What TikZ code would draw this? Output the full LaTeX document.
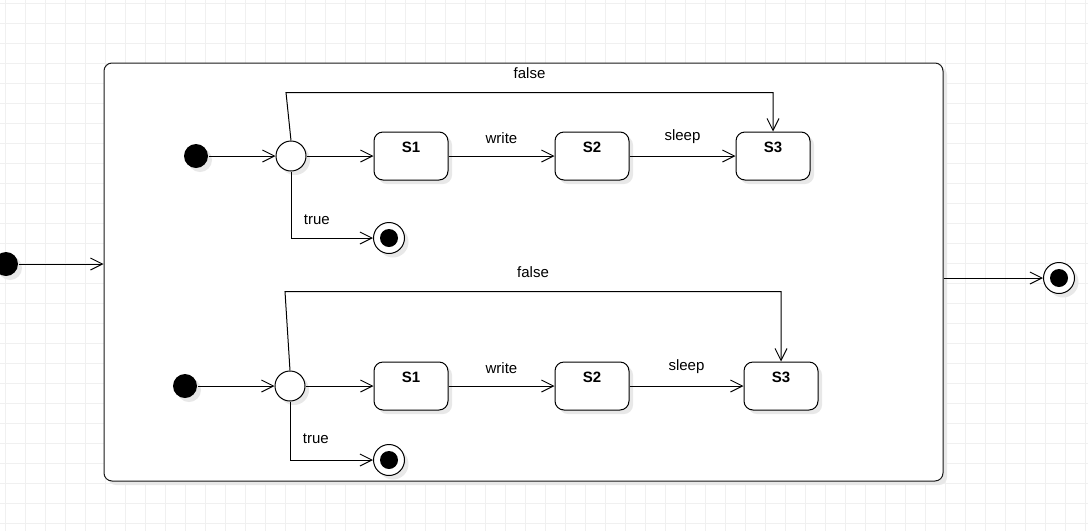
\documentclass[tikz,border=0pt]{standalone}
\usepackage{fontspec}
\setmainfont{Liberation Sans}
\usetikzlibrary{arrows.meta,positioning,shadows}

\tikzset{
  shd/.style={drop shadow={shadow xshift=4pt,shadow yshift=-4pt,fill=black!9,opacity=1}},
  gridline/.style={-,draw=black!6,line width=0.8pt},
  outerbox/.style={draw=black!90,fill=white,rounded corners=8pt,minimum width=839pt,minimum height=418pt,shd},
  stbox/.style={draw,fill=white,rounded corners=9pt,minimum width=74pt,minimum height=48pt,
    font=\fontsize{15}{18}\selectfont\bfseries,text depth=18pt,shd},
  startdot/.style={circle,fill=black,minimum size=24pt,inner sep=0pt,shd},
  choicept/.style={circle,draw,fill=white,minimum size=30pt,inner sep=0pt,shd},
  enddot/.style={circle,draw,fill=white,minimum size=31pt,inner sep=0pt,shd,
    path picture={\fill[black] (path picture bounding box.center) circle (9pt);}}
}

\begin{document}
\begin{tikzpicture}[x=1pt,y=-1pt,->,>={Straight Barb[length=12pt,width=12pt]},line width=1pt,
    node distance=106pt,font=\fontsize{15}{18}\selectfont]
  \useasboundingbox (0,0) rectangle (1088,531);
  \fill[white] (0,0) rectangle (1088,531);
  \foreach \x in {5,25,...,1085} \draw[gridline] (\x,0) -- (\x,531);
  \foreach \y in {3,23,...,523} \draw[gridline] (0,\y) -- (1088,\y);

  % composite state
  \node[outerbox] (frame) at (523.5,272) {};
  \node[startdot] (st0) at (6,264) {};
  \node[enddot] (en0) at (1059,278) {};
  \draw (st0) -- (st0 -| frame.west);
  \draw (frame.east |- en0) -- (en0);

  % upper region
  \node[startdot] (i1) at (196,156) {};
  \node[choicept] (c1) [right=67pt of i1] {};
  \node[stbox] (s1a) [right=67pt of c1] {S1};
  \node[stbox] (s2a) [right=of s1a] {S2};
  \node[stbox] (s3a) [right=of s2a] {S3};
  \node[enddot] (e1) at (389,238) {};
  \path
    (i1) edge (c1)
    (c1) edge (s1a)
    (s1a) edge node[above=9pt,-] {write} (s2a)
    (s2a) edge node[above=9pt,-] {sleep} (s3a);
  \draw (c1.north) -- ++(-5,-48) coordinate (f1) -| node[pos=0.25,above=10pt] {false} (s3a.north);
  \draw (c1.south) |- node[pos=0.36,right=9pt] {true} (e1);

  % lower region
  \node[startdot] (i2) at (185,386) {};
  \node[choicept] (c2) [right=77pt of i2] {};
  \node[stbox] (s1b) [right=68pt of c2] {S1};
  \node[stbox] (s2b) [right=of s1b] {S2};
  \node[stbox] (s3b) [right=114pt of s2b] {S3};
  \node[enddot] (e2) at (389,460) {};
  \path
    (i2) edge (c2)
    (c2) edge (s1b)
    (s1b) edge node[above=9pt,-] {write} (s2b)
    (s2b) edge node[above=9pt,-] {sleep} (s3b);
  \draw (c2.north) -- ++(-5,-79) coordinate (f2) -| node[pos=0.25,above=10pt] {false} (s3b.north);
  \draw (c2.south) |- node[pos=0.32,right=9pt] {true} (e2);
\end{tikzpicture}
\end{document}
